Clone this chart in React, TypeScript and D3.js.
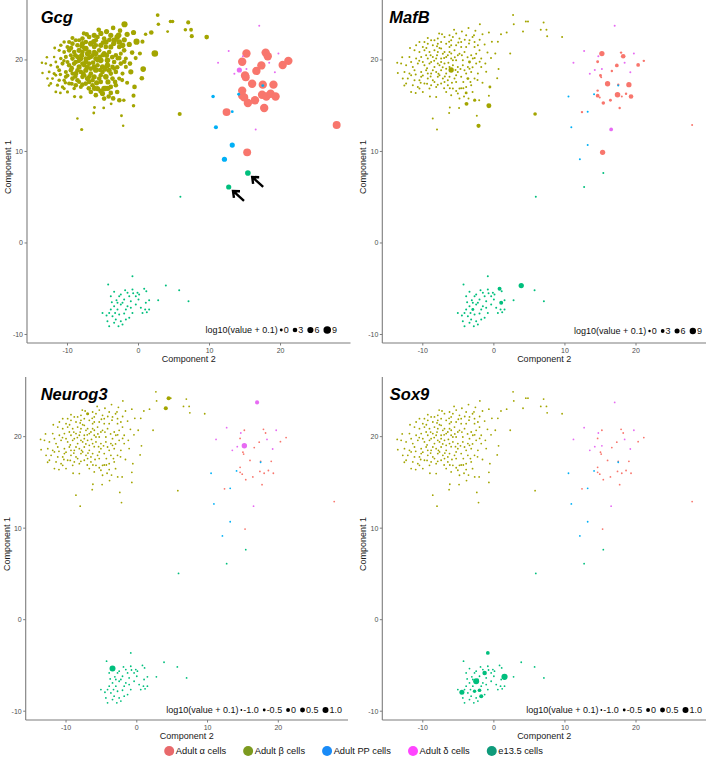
import React from 'react';
import * as d3 from 'd3';

// Each cell: [Component 2, Component 1, Gcg, MafB, Neurog3, Sox9]  (expression = log10(value + 0.1))
const alphaCells: number[][] = [
  [15.2, 20.7, 11, 6.5, -1, -1], [17.9, 20.8, 11, 0, -1, -1], [18.2, 20.4, 11, 5, -1, -1],
  [14.6, 19.8, 11, 1, -1, -1], [17.3, 19.4, 11, 3, -1, -1], [16.6, 18.8, 11, 0, -1, -1],
  [20.3, 19.45, 11, 3, -1, -1], [21.1, 19.9, 11, 0, -1, -1], [15.0, 18.3, 11, 1, -1, -1],
  [15.1, 18.1, 10, -1, -1, -1], [16.0, 17.4, 11, 6.5, -1, -1], [17.5, 17.3, 11, 0, -1, -1],
  [19.0, 17.3, 11, 6.5, -1, -1], [14.6, 16.65, 11, 0, -1, -1], [14.6, 16.1, 11, 3, -1, -1],
  [14.9, 15.9, 10, -1, -1, -1], [15.4, 15.3, 11, 2.5, -1, -1], [16.4, 15.6, 11, 1, -1, -1],
  [17.4, 16.2, 11, 7, -1, -1], [18.0, 16.0, 11, -1, -1, -1], [18.6, 16.3, 11, 0, -1, -1],
  [19.3, 16.0, 11, 5, -1, -1], [17.7, 14.75, 11, 0, -1, -1], [12.4, 14.3, 10, 0, -1, -1],
  [15.3, 9.9, 10, 6.5, -1, -1], [27.9, 12.9, 10, -1, -1, -1],
];

const betaCells: number[][] = [
  [-6.95, 22.51, 3, -1, -0.4, -1], [-6.24, 22.69, 4, -1, -1, -1], [-5.77, 22.51, 3, -1, -1, -1],
  [-4.84, 22.33, 3, -1, -1, -1], [-4.6, 21.96, 5, -1, -1, -1], [-3.43, 22.15, 5, -1, -1, -1],
  [-2.72, 21.96, 5, -1, -1, -1], [-7.89, 22.33, 3, -1, -1, -1], [-8.83, 22.15, 2, -1, -1, -1],
  [-9.77, 21.96, 2, -1, -1, -1], [-10.47, 21.96, 1, -1, -1, -1],
  [-10.94, 21.6, 1, -1, -1, -1], [-10.0, 21.42, 2, -1, -1, -1], [-9.3, 21.78, 3, -1, -1, -1],
  [-8.59, 21.6, 3, -1, -1, -1], [-7.89, 21.78, 4, -1, -1, -1], [-7.42, 21.96, 3, -1, -1, -1],
  [-6.71, 21.78, 5, -1, -1, -1], [-6.01, 21.6, 3, -1, -1, -1], [-5.31, 21.6, 4, -1, -1, -1],
  [-4.6, 21.42, 3, -1, -1, -1], [-3.9, 21.42, 4, -1, -1, -1], [-2.72, 21.42, 3, -1, -1, -1],
  [-2.25, 21.6, 5, -1, -1, -1],
  [-11.17, 21.05, 0.5, -1, -1, -1], [-10.47, 20.87, 1.5, -1, -1, -1], [-9.77, 21.05, 3, -1, -1, -1],
  [-9.06, 20.87, 3, -1, -1, -1], [-8.36, 21.05, 4, -1, -1, -1], [-7.89, 20.87, 3, -1, -1, -1],
  [-7.42, 21.24, 5, -1, -1, -1], [-6.95, 20.87, 4, -1, -1, -1], [-6.24, 20.87, 3, -1, -1, -1],
  [-5.54, 21.05, 3, -1, -1, -1], [-4.84, 20.69, 4, -1, -1, -1], [-4.13, 20.87, 3, -1, -1, -1],
  [-3.19, 20.51, 3, -1, -1, -1], [-2.49, 20.69, 2, -1, -1, -1],
  [-11.88, 20.33, -0.5, -1, -1, -1], [-10.94, 20.15, 1, -1, -1, -1], [-10.23, 20.33, 2, -1, -1, -1],
  [-9.3, 20.15, 3, -1, -1, -1], [-8.59, 20.33, 3, -1, -1, -1], [-8.12, 20.15, 4, -1, -1, -1],
  [-7.42, 20.15, 3, -1, -1, -1], [-6.71, 20.33, 3, -1, -1, -1], [-6.01, 20.15, 4, -1, -1, -1],
  [-5.31, 19.96, 5, -1, -1, -1], [-4.37, 19.96, 5, -1, -1, -1], [-3.43, 19.78, 3, 1, -1, -1],
  [-2.96, 20.15, 2, -1, -1, -1],
  [-13.05, 19.6, -0.5, -1, -1, -1], [-12.35, 19.42, 0, -1, -1, -1], [-11.41, 19.24, 1, -1, -1, -1],
  [-10.7, 19.6, 2, -1, -1, -1], [-9.77, 19.42, 3, -1, -1, -1], [-9.06, 19.6, 3, -1, -1, -1],
  [-8.36, 19.24, 4, -1, -1, -1], [-7.65, 19.42, 3, -1, -1, -1], [-6.95, 19.6, 3, -1, -1, -1],
  [-6.24, 19.24, 4, -1, -1, -1], [-5.77, 19.42, 3, -1, -1, -1], [-5.07, 19.24, 4, -1, -1, -1],
  [-4.37, 19.42, 5, -1, -1, -1], [-3.66, 19.24, 3, -1, -1, -1], [-2.49, 19.6, 3, -1, -1, -1],
  [-13.52, 18.58, -0.5, -1, -1, -1], [-12.58, 18.69, 0, -1, -1, -1], [-11.88, 18.51, 0.5, -1, -1, -1],
  [-11.17, 18.87, 1.5, -1, -1, -1], [-10.23, 18.69, 2, -1, -1, -1], [-9.53, 18.87, 3, -1, -1, -1],
  [-8.83, 18.51, 4, -1, -1, -1], [-8.12, 18.69, 3, -1, -1, -1], [-7.42, 18.87, 4, -1, -1, -1],
  [-6.71, 18.51, 3, -1, -1, -1], [-6.01, 18.9, 5, 6.5, -1, -1], [-5.07, 18.69, 3, -1, -1, -1],
  [-4.13, 18.87, 4, -1, -1, -1], [-3.19, 18.69, 3, -1, -1, -1], [-2.25, 18.51, 2, -1, -1, -1],
  [-12.11, 17.96, 0, -1, -1, -1], [-11.17, 17.78, 1, -1, -1, -1], [-10.23, 18.15, 2, -1, -1, -1],
  [-9.3, 17.96, 3, -1, -1, -1], [-8.59, 17.78, 3, -1, -1, -1], [-7.89, 18.15, 3, -1, -1, -1],
  [-7.18, 17.96, 4, -1, -1, -1], [-6.48, 17.78, 3, -1, -1, -1], [-5.54, 17.96, 3, -1, -1, -1],
  [-4.6, 18.15, 5, -1, -1, -1], [-3.66, 17.96, 3, 1, -1, -1], [-2.72, 17.96, 2, -1, -1, -1],
  [-12.35, 17.42, 0, -1, -1, -1], [-11.41, 17.24, 0.5, -1, -1, -1], [-10.7, 17.05, 1, -1, -1, -1],
  [-9.77, 17.42, 2, -1, -1, -1], [-8.83, 17.24, 3, -1, -1, -1], [-8.12, 17.05, 2, -1, -1, -1],
  [-7.42, 17.42, 3, -1, -1, -1], [-6.48, 17.24, 3, -1, -1, -1], [-5.77, 16.87, 4, -1, -1, -1],
  [-4.84, 16.87, 5, -1, -1, -1], [-3.9, 17.05, 3, -1, -1, -1], [-3.19, 17.24, 3, -1, -1, -1],
  [-10.47, 16.87, 0.5, -1, -1, -1], [-8.12, 15.96, 1, -1, -1, -1], [-6.71, 16.51, 3, -1, -1, -1],
  [-6.01, 16.15, 3, -1, -1, -1], [-5.07, 16.33, 4, -1, -1, -1], [-3.9, 16.4, 3, 1, -1, -1],
  [-4.84, 15.78, 3, -1, -1, -1],
  [-7.65, 21.31, 3, -1, -1, -1], [-7.18, 20.69, 4, -1, -1, -1], [-6.48, 20.51, 3, -1, -1, -1],
  [-7.42, 19.78, 4, -1, -1, -1], [-7.89, 19.6, 3, -1, -1, -1], [-6.71, 19.05, 3, -1, -1, -1],
  [-5.77, 19.96, 3, -1, -1, -1], [-8.83, 19.78, 3, -1, -1, -1], [-9.53, 20.51, 2, -1, -1, -1],
  [-10.0, 19.78, 2, -1, -1, -1], [-8.59, 18.87, 3, -1, -1, -1], [-9.3, 18.51, 2, -1, -1, -1],
  [-7.65, 18.33, 3, -1, -1, -1], [-6.95, 17.6, 3, -1, -1, -1], [-5.31, 17.6, 3, -1, -1, -1],
  [-6.24, 18.15, 4, -1, -1, -1], [-8.36, 17.6, 2, -1, -1, -1], [-9.06, 16.87, 1, -1, -1, -1],
  [-5.31, 18.33, 3, -1, -1, -1], [-3.9, 18.51, 3, -1, -1, -1], [-3.43, 19.05, 2, -1, -1, -1],
  [-5.07, 20.51, 3, -1, -1, -1], [-6.24, 21.42, 3, -1, -1, -1], [-8.36, 22.15, 2, -1, -1, -1],
  [-6.01, 22.15, 3, -1, -1, -1], [-3.9, 22.69, 4, -1, -1, -1], [-2.02, 21.05, 3, -1, -1, -1],
  [-1.78, 20.15, 2, -1, -1, -1], [-1.78, 19.24, 2, -1, -1, -1], [-11.64, 19.78, 0, -1, -1, -1],
  [-11.64, 18.33, 0, -1, -1, -1], [-12.82, 17.96, -0.5, -1, -1, -1], [-10.47, 17.78, 1, -1, -1, -1],
  [-10.0, 16.51, 0.5, -1, -1, -1], [-11.64, 16.51, 0, -1, -1, -1],
  [-7.3, 22.8, 3, -1, -1, -1], [-5.3, 22.9, 4, -1, -1, -1], [-4.1, 22.2, 3, -1, -1, -1],
  [-3.0, 22.5, 5, -1, -1, -1], [-9.3, 22.4, 2, -1, -1, -1], [-8.0, 21.5, 3, -1, -1, -1],
  [-6.3, 22.0, 4, -1, -1, -1], [-5.0, 21.9, 3, -1, -1, -1], [-3.5, 21.8, 4, -1, -1, -1],
  [-2.0, 22.2, 4, -1, -1, -1], [-9.5, 21.3, 3, -1, -1, -1], [-8.9, 20.5, 3, -1, -1, -1],
  [-8.0, 20.5, 4, -1, -1, -1], [-7.0, 20.2, 3, -1, -1, -1], [-6.0, 20.7, 4, -1, -1, -1],
  [-5.5, 20.3, 3, -1, -1, -1], [-4.5, 20.5, 4, -1, -1, -1], [-3.7, 20.3, 3, -1, -1, -1],
  [-2.7, 20.2, 3, -1, -1, -1], [-10.5, 19.9, 1, -1, -1, -1], [-9.4, 19.1, 3, -1, -1, -1],
  [-8.4, 19.9, 3, -1, -1, -1], [-7.2, 19.2, 4, -1, -1, -1], [-6.4, 19.7, 3, -1, -1, -1],
  [-5.4, 18.9, 3, -1, -1, -1], [-4.7, 19.0, 4, -1, -1, -1], [-3.0, 19.2, 3, -1, -1, -1],
  [-2.0, 19.8, 3, -1, -1, -1], [-11.0, 18.4, 1, -1, -1, -1], [-10.0, 18.3, 2, -1, -1, -1],
  [-8.9, 18.2, 3, -1, -1, -1], [-7.8, 18.5, 3, -1, -1, -1], [-6.9, 18.2, 3, -1, -1, -1],
  [-5.9, 17.5, 4, -1, -1, -1], [-4.3, 17.6, 4, -1, -1, -1], [-3.3, 17.6, 3, -1, -1, -1],
  [-2.3, 17.8, 2, -1, -1, -1], [-10.3, 17.5, 1, -1, -1, -1], [-9.4, 17.4, 2, -1, -1, -1],
  [-7.9, 17.3, 3, -1, -1, -1], [-7.0, 16.9, 3, -1, -1, -1], [-6.2, 16.9, 4, -1, -1, -1],
  [-5.3, 16.6, 4, -1, -1, -1], [-4.2, 16.0, 3, -1, -1, -1], [-3.0, 16.5, 3, -1, -1, -1],
  [-1.6, 17.5, 2, -1, -1, -1], [-1.3, 21.7, 4, -1, -1, -1], [-0.9, 20.8, 3, -1, -1, -1],
  [-1.2, 19.6, 3, -1, -1, -1], [-0.4, 20.2, 2, -1, -1, -1], [0.2, 20.7, 2, -1, -1, -1],
  [-1.6, 22.8, 4, -1, -1, -1], [-2.6, 23.2, 3, -1, -1, -1], [-5.6, 23.3, 3, -1, -1, -1],
  [-7.7, 22.9, 2, -1, -1, -1], [-11.8, 21.3, 0, -1, -1, -1], [-12.9, 20.3, -0.5, -1, -1, -1],
  [-13.6, 19.7, -0.5, -1, -1, -1], [-12.6, 17.2, -0.5, -1, -1, -1], [-11.0, 16.4, 0, -1, -1, -1],
  [-9.0, 16.0, 0.5, -1, -1, -1],
  [2.7, 24.9, 1.5, -1, -1, -1], [2.8, 23.9, 1, -1, -1, -1], [4.5, 24.2, 1, -1, 0.1, -1],
  [4.8, 24.2, 1, -1, -1, -1], [7.0, 24.1, 2, -1, -1, -1], [6.6, 23.3, 1, -1, -1, -1],
  [7.4, 23.3, 1.5, -1, -1, -1], [7.5, 22.6, 2, -1, -1, -1], [5.8, 14.1, 2, 2.7, -1, -1],
  [9.6, 22.5, 3, -1, -1, -1], [-1.97, 23.9, 6, -1, -1, -1], [-4.5, 23.1, 4, -1, -1, -1],
  [-3.57, 23.5, 3, -1, -1, -1], [-2.8, 22.7, 5, -1, -1, -1], [-0.7, 23.0, 4, -1, -1, -1],
  [-0.28, 22.0, 6, -1, -1, -1], [0.56, 22.0, 2, -1, -1, -1], [1.0, 22.8, 1, -1, -1, -1],
  [1.8, 23.0, 3, -1, -1, -1], [4.1, 23.1, 0, -1, 0.1, -1], [2.3, 20.7, 7, -1, -1, -1],
  [0.66, 19.0, 5, -1, -1, -1], [-1.08, 18.7, 4, -1, -1, -1], [0.47, 18.0, 3, -1, -1, -1],
  [-0.56, 17.05, 3, 1, -1, -1], [-0.7, 16.1, 2, -1, -1, -1], [-2.07, 15.6, 1, -1, -1, -1],
  [-2.7, 15.6, 3, 1.7, -1, -1], [-0.7, 15.0, 1, 5.8, -1, -1], [-2.4, 13.9, 0, -1, -1, -1],
  [-2.16, 12.8, -0.5, 4, -1, -1], [-3.85, 15.2, 0, 3.5, -1, -1], [-4.9, 14.76, 0, -1, -1, -1],
  [-6.2, 14.8, 0, -1, -1, -1], [-6.3, 14.2, 0, -1, -1, -1], [-8.6, 13.6, -0.5, -1, -1, -1],
  [-8.0, 12.4, 0.5, -1, -1, -1], [-3.57, 15.8, 3, -1, -1, -1], [-4.6, 16.9, 4, -1, -1, -1],
  [-4.3, 16.9, 4, -1, -1, -1],
];

const ppCells: number[][] = [
  [10.5, 16.0, 1, -1, -1, -1], [14.1, 16.25, 0, -1, -1, -1], [13.2, 14.35, 0, -1, -1, -1],
  [10.9, 12.65, 2, -1, -1, -1], [13.2, 10.7, 4, -1, -1, -1], [12.1, 9.15, 4, -1, -1, -1],
  [17.5, 17.2, 0, -1, -1, -1],
];

const deltaCells: number[][] = [
  [17.0, 23.74, -1, -1, 0.1, -1], [12.7, 20.98, -1, -1, -1, -1], [19.7, 20.7, -1, -1, -1, -1],
  [14.7, 20.4, -1, -1, -1, -1], [11.2, 19.7, -1, -1, -1, -1], [14.2, 18.9, 4, -1, -1, -1],
  [15.2, 19.0, -1, -1, 0.7, -1], [19.2, 18.65, -1, -1, -1, -1], [13.5, 18.5, -1, -1, -1, -1],
  [18.4, 19.7, -1, -1, -1, -1], [16.5, 12.4, -1, 3, -1, -1],
];

const e135Cells: number[][] = [
  [15.4, 7.65, 5, -1, -1, -1], [12.7, 6.12, 4, -1, -1, -1], [5.9, 5.05, -1, -1, -1, -1],
  [-0.85, -3.63, -1, -1, -1, -0.05], [-4.27, -4.54, -1, -1, -1, -1], [3.85, -4.65, -1, 6.5, -1, -1],
  [5.73, -5.16, -1, -1, -1, -1], [7.04, -6.36, -1, -1, -1, -1], [2.77, -6.25, -1, -1, -1, -1],
  [1.5, -6.25, -1, -1, -1, 1.1], [-3.43, -5.34, -1, -1, 1.0, -1], [-1.88, -5.16, -1, -1, -1, -1],
  [-0.85, -5.09, -1, -1, -1, -1], [-0.75, -5.5, -1, -1, -1, -1], [-0.38, -5.82, -1, -1, -1, -1],
  [-1.3, -5.82, -1, -1, -1, 0.3], [-2.49, -5.63, -1, -1, -1, -1], [0.8, -5.0, -1, 3.5, -1, -1],
  [1.1, -5.27, -1, -1, -1, -1], [0.0, -6.18, -1, -1, -1, -1], [1.03, -6.54, -1, 3.5, -1, -1],
  [0.94, -7.27, -1, -1, -1, -1], [1.17, -7.56, -1, -1, -1, -1], [0.33, -7.09, -1, -1, -1, -1],
  [-0.85, -7.64, -1, -1, -1, -1], [-1.55, -6.91, -1, -1, -1, -1], [-2.25, -6.54, -1, -1, -1, -1],
  [-3.1, -6.25, -1, -1, -1, -1], [-2.49, -6.73, -1, -1, -1, 1.0], [-3.43, -6.91, -1, -1, -1, -1],
  [-2.96, -7.27, -1, 1, -1, -1], [-3.9, -7.27, -1, -1, -1, -1], [-4.13, -7.64, -1, -1, -1, -1],
  [-4.5, -7.93, -1, -1, -1, 0.55], [-3.29, -7.64, -1, -1, -1, -1], [-2.72, -7.82, -1, -1, -1, -0.2],
  [-2.02, -7.71, -1, -1, -1, -0.1], [-1.78, -8.36, -1, -1, -1, 0.1], [-3.2, -8.36, -1, -1, -1, -1],
  [-4.13, -9.09, -1, -1, -1, -1], [-2.82, -9.09, -1, -1, -1, -1], [-2.49, -8.55, -1, -1, -1, -1],
  [-1.3, -8.18, -1, -1, -1, -1], [-3.76, -6.47, -1, -1, -1, -1], [-1.08, -6.36, -1, -1, -1, -1],
  [-0.14, -5.45, -1, -1, -1, -1], [-2.72, -5.82, -1, -1, -1, -1], [-2.02, -6.18, -1, -1, -1, -1],
  [-1.55, -5.45, -1, -1, -1, -1], [0.09, -5.63, -1, -1, -1, -1], [-0.38, -6.73, -1, -1, -1, -1],
  [-1.08, -7.09, -1, -1, -1, -1], [-1.78, -7.27, -1, -1, -1, -1], [-2.96, -6.54, -1, -1, -1, -1],
  [-3.66, -8.0, -1, -1, -1, -1], [-2.25, -8.9, -1, -1, -1, -1], [-3.43, -8.73, -1, -1, -1, -1],
  [-4.37, -8.55, -1, -1, -1, -1], [-3.9, -5.82, -1, -1, -1, -1], [0.56, -7.64, -1, -1, -1, -1],
  [1.5, -7.27, -1, -1, -1, -1], [-5.07, -7.64, -1, -1, -1, -1],
];

const cellTypes = ['Adult α cells', 'Adult β cells', 'Adult PP cells', 'Adult δ cells', 'e13.5 cells'];
const pointColors = ['#F8766D', '#A3A500', '#00B0F6', '#E76BF3', '#00BF7D'];
const legendColors = ['#E8696B', '#7C9A1F', '#1A8BF7', '#FF45FF', '#0F9B7B'];
const genes = ['Gcg', 'MafB', 'Neurog3', 'Sox9'];
const sizeBreaks = [[0, 3, 6, 9], [0, 3, 6, 9], [-1, -0.5, 0, 0.5, 1], [-1, -0.5, 0, 0.5, 1]];
const sizeBreakLabels = [
  ['0', '3', '6', '9'], ['0', '3', '6', '9'],
  ['-1.0', '-0.5', '0', '0.5', '1.0'], ['-1.0', '-0.5', '0', '0.5', '1.0'],
];
const sizeDomains = [[-1, 12], [-1, 9.5], [-1, 1.1], [-1, 1.1]];
const xTicks = [-10, 0, 10, 20];
const yTicks = [-10, 0, 10, 20];
const xDomain = [-15.7, 29.85];
const yDomain = [-10.93, 26.55];
const arrowedCells = [0, 1]; // e13.5 cells marked by arrows in the Gcg panel

const groups = [alphaCells, betaCells, ppCells, deltaCells, e135Cells];

// layout (pixels)
const panelBoxes = [
  { left: 27, right: 350.5, bottom: 343, visTop: 0, yOff: 0, titleDx: 13.7, legPad: 13.5, legDy: 13 },
  { left: 382.3, right: 706, bottom: 343, visTop: 0, yOff: 0, titleDx: 7, legPad: 4, legDy: 12 },
  { left: 25.7, right: 348, bottom: 720, visTop: 377, yOff: 376.7, titleDx: 15, legPad: 6, legDy: 10 },
  { left: 382.3, right: 706, bottom: 720, visTop: 377, yOff: 376.7, titleDx: 7.5, legPad: 4, legDy: 10 },
];
const sizeRanges = [[1, 4.4], [1, 3.3], [0.9, 3.1], [0.9, 3.1]];
const sizeExponents = [0.8, 1, 1, 1];

const FONT = '"Liberation Sans", Arial, Helvetica, sans-serif';
let ctx: CanvasRenderingContext2D | null = null;
function textWidth(s: string, size: number, weight = 'normal') {
  if (!ctx) ctx = document.createElement('canvas').getContext('2d');
  if (!ctx) return s.length * size * 0.55;
  ctx.font = `${weight} ${size}px "Liberation Sans"`;
  return ctx.measureText(s).width;
}

function Arrow({ cx, cy }: { cx: number; cy: number }) {
  const tx = cx + 4.3, ty = cy + 4;
  const dx = 11, dy = 10;
  const th = Math.atan2(dy, dx);
  const a = (40 * Math.PI) / 180;
  const L = 7;
  const a1 = [tx + L * Math.cos(th + a), ty + L * Math.sin(th + a)];
  const a2 = [tx + L * Math.cos(th - a), ty + L * Math.sin(th - a)];
  const d = `M${a1[0]},${a1[1]}L${tx},${ty}L${a2[0]},${a2[1]}M${tx},${ty}L${tx + dx},${ty + dy}`;
  return <path d={d} fill="none" stroke="#000" strokeWidth={2.4} strokeLinejoin="miter" />;
}

function Panel({ gi }: { gi: number }) {
  const box = panelBoxes[gi];
  const x = d3.scaleLinear().domain(xDomain).range([box.left, box.right]);
  const y = d3.scaleLinear().domain(yDomain).range([343 + box.yOff, box.yOff]);
  const [d0, d1] = sizeDomains[gi];
  const [r0, r1] = sizeRanges[gi];
  const t = d3.scalePow().exponent(sizeExponents[gi]).domain([0, d1 - d0]).range([r0, r1]).clamp(true);
  const r = (v: number) => t(Math.max(0, v - d0));
  const col = 2 + gi;
  const axisColor = '#7d7d7d';

  const fs = 9;
  const labels = sizeBreakLabels[gi];
  let cursor = 0;
  const items = sizeBreaks[gi].map((b, i) => {
    const rr = r(b);
    const cx = cursor + rr;
    const lx = cursor + 2 * rr + 1;
    const w = textWidth(labels[i], fs);
    cursor = lx + w + 4;
    return { cx, lx, rr, label: labels[i] };
  });
  const total = cursor - 4;
  const start = box.right - box.legPad - total;
  const legY = box.bottom - box.legDy;

  const midY = (box.visTop + box.bottom) / 2 - 4.5;

  return (
    <g>
      {groups.map((cells, ti) =>
        cells.map((c, i) => (
          <circle key={`${ti}-${i}`} cx={x(c[0])} cy={y(c[1])} r={r(c[col])} fill={pointColors[ti]} />
        ))
      )}
      {gi === 0 &&
        arrowedCells.map((idx) => (
          <Arrow key={idx} cx={x(e135Cells[idx][0])} cy={y(e135Cells[idx][1])} />
        ))}
      <line x1={box.left} x2={box.right} y1={box.bottom} y2={box.bottom} stroke={axisColor} strokeWidth={1.1} />
      <line x1={box.left} x2={box.left} y1={box.visTop} y2={box.bottom} stroke={axisColor} strokeWidth={1.1} />
      {xTicks.map((tk) => (
        <g key={`x${tk}`}>
          <line x1={x(tk)} x2={x(tk)} y1={box.bottom} y2={box.bottom + 2.5} stroke={axisColor} strokeWidth={1} />
          <text x={x(tk)} y={box.bottom + 10.3} fontSize={7} fill="#4d4d4d" textAnchor="middle">{tk}</text>
        </g>
      ))}
      {yTicks.map((tk) => (
        <g key={`y${tk}`}>
          <line x1={box.left - 2.5} x2={box.left} y1={y(tk)} y2={y(tk)} stroke={axisColor} strokeWidth={1} />
          <text x={box.left - 4} y={y(tk) + 2.5} fontSize={7} fill="#4d4d4d" textAnchor="end">{tk}</text>
        </g>
      ))}
      <text x={(box.left + box.right) / 2} y={box.bottom + 18.5} fontSize={9} fill="#1a1a1a" textAnchor="middle">
        Component 2
      </text>
      <text
        transform={`translate(${box.left - 16},${midY}) rotate(-90)`}
        fontSize={9}
        fill="#1a1a1a"
        textAnchor="middle"
      >
        Component 1
      </text>
      <text x={box.left + box.titleDx} y={box.visTop + 23.3} fontSize={16.5} fontWeight="bold" fontStyle="italic" fill="#000">
        {genes[gi]}
      </text>
      <text x={start - 2} y={legY + 3.2} fontSize={fs} textAnchor="end" fill="#111">
        log10(value + 0.1)
      </text>
      {items.map((it, i) => (
        <g key={`l${i}`}>
          <circle cx={start + it.cx} cy={legY} r={it.rr} fill="#000" />
          <text x={start + it.lx} y={legY + 3.2} fontSize={fs} fill="#111">{it.label}</text>
        </g>
      ))}
    </g>
  );
}

function BottomLegend() {
  const fs = 9.3;
  const rad = 5;
  const gapAfter = 17;
  const widths = cellTypes.map((s) => 2 * rad + 1.6 + textWidth(s, fs));
  const total = d3.sum(widths) + gapAfter * (cellTypes.length - 1);
  let cursor = 353.5 - total / 2;
  const cy = 751;
  return (
    <g>
      {cellTypes.map((s, i) => {
        const x0 = cursor;
        cursor += widths[i] + gapAfter;
        return (
          <g key={s}>
            <circle cx={x0 + rad} cy={cy} r={rad} fill={legendColors[i]} />
            <text x={x0 + 2 * rad + 1.6} y={cy + 3.3} fontSize={fs} fill="#111">{s}</text>
          </g>
        );
      })}
    </g>
  );
}

export default function App() {
  return (
    <svg
      width={707}
      height={757}
      style={{ position: 'absolute', left: 0, top: 0, background: '#fff' }}
      fontFamily={FONT}
    >
      <rect width={707} height={757} fill="#fff" />
      {genes.map((g, gi) => (
        <Panel key={g} gi={gi} />
      ))}
      <BottomLegend />
    </svg>
  );
}
